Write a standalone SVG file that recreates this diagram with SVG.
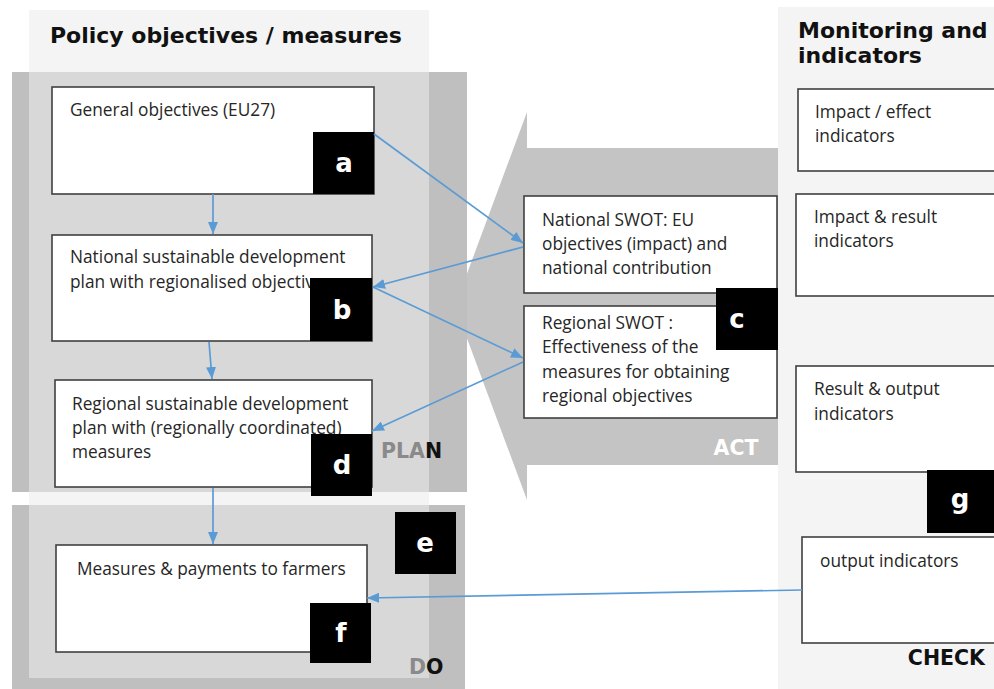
<svg xmlns="http://www.w3.org/2000/svg" width="994" height="689" viewBox="0 0 994 689">
<defs>
<style>
.box{fill:#fff;stroke:#404040;stroke-width:1.6}
.lbl{fill:#000}
.lt{font-family:"DejaVu Sans",Verdana,sans-serif;font-weight:bold;font-size:26px;fill:#fff;text-anchor:middle}
.tx{font-family:"Open Sans","Noto Sans",sans-serif;font-size:17.3px;fill:#262626}
.hd{font-family:"DejaVu Sans",Verdana,sans-serif;font-weight:bold;font-size:22px;fill:#111}
.ph{font-family:"DejaVu Sans",Verdana,sans-serif;font-weight:bold;font-size:20.5px}
.con{stroke:#5b9bd5;stroke-width:1.7;fill:none;marker-end:url(#ah)}
</style>
<marker id="ah" viewBox="0 0 12 10" refX="12" refY="5" markerWidth="12" markerHeight="10" markerUnits="userSpaceOnUse" orient="auto">
<path d="M0,0 L12,5 L0,10 z" fill="#5b9bd5"/>
</marker>
</defs>
<rect x="0" y="0" width="994" height="689" fill="#fff"/>

<!-- backgrounds -->
<g id="act-arrow">
<polygon points="778,148 527,148 527,112 455,306 527,500 527,465 778,465" fill="#c4c4c4"/>
<text class="ph" x="736" y="455" fill="#fff" text-anchor="middle">ACT</text>
</g>
<g id="policy-column">
<rect x="29" y="10" width="400" height="679" fill="#f4f4f4"/>
<text class="hd" x="50" y="43">Policy objectives / measures</text>
</g>
<g id="plan-panel">
<rect x="12" y="72" width="455" height="420" fill="#bfbfbf"/>
<rect x="29" y="72" width="400" height="420" fill="#d8d8d8"/>
<text class="ph" x="381" y="458"><tspan fill="#8a8a8a">PLA</tspan><tspan fill="#111">N</tspan></text>
</g>
<g id="do-panel">
<rect x="12" y="505" width="453" height="184" fill="#bfbfbf"/>
<rect x="29" y="505" width="400" height="173" fill="#d8d8d8"/>
<text class="ph" x="409" y="674"><tspan fill="#8a8a8a">D</tspan><tspan fill="#111">O</tspan></text>
</g>
<g id="monitoring-panel">
<rect x="778" y="7" width="216" height="682" fill="#f4f4f4"/>
<text class="hd" x="798" y="38">Monitoring and</text>
<text class="hd" x="798" y="63">indicators</text>
<text class="ph" x="985" y="665" fill="#111" text-anchor="end">CHECK</text>
</g>

<!-- nodes -->
<g id="node-a">
<rect class="box" x="52" y="87" width="322" height="107"/>
<text class="tx" x="70" y="116">General objectives (EU27)</text>
<rect class="lbl" x="313" y="132" width="61" height="62"/>
<text class="lt" x="344" y="172">a</text>
</g>
<g id="node-b">
<rect class="box" x="52" y="235" width="320" height="106"/>
<text class="tx" x="70" y="263">National sustainable development</text>
<text class="tx" x="70" y="288">plan with regionalised objectives</text>
<rect class="lbl" x="310" y="278" width="62" height="63"/>
<text class="lt" x="342" y="319">b</text>
</g>
<g id="node-d">
<rect class="box" x="55" y="380" width="317" height="107"/>
<text class="tx" x="72" y="410">Regional sustainable development</text>
<text class="tx" x="72" y="434">plan with (regionally coordinated)</text>
<text class="tx" x="72" y="458">measures</text>
<rect class="lbl" x="311" y="434" width="61" height="62"/>
<text class="lt" x="342" y="474">d</text>
</g>
<g id="node-e">
<rect class="lbl" x="395" y="512" width="61" height="62"/>
<text class="lt" x="425" y="552">e</text>
</g>
<g id="node-f">
<rect class="box" x="56" y="545" width="311" height="107"/>
<text class="tx" x="77" y="575">Measures &amp; payments to farmers</text>
<rect class="lbl" x="310" y="603" width="61" height="60"/>
<text class="lt" x="341" y="642">f</text>
</g>
<g id="node-national-swot">
<rect class="box" x="524" y="196" width="253" height="97"/>
<text class="tx" x="542" y="226">National SWOT: EU</text>
<text class="tx" x="542" y="250">objectives (impact) and</text>
<text class="tx" x="542" y="274">national contribution</text>
</g>
<g id="node-regional-swot">
<rect class="box" x="524" y="306" width="253" height="112"/>
<text class="tx" x="542" y="329">Regional SWOT :</text>
<text class="tx" x="542" y="353">Effectiveness of the</text>
<text class="tx" x="542" y="378">measures for obtaining</text>
<text class="tx" x="542" y="402">regional objectives</text>
</g>
<g id="node-c">
<rect class="lbl" x="716" y="288" width="62" height="62"/>
<text class="lt" x="737" y="328">c</text>
</g>
<g id="node-impact-effect">
<rect class="box" x="798" y="89" width="210" height="82"/>
<text class="tx" x="815" y="118">Impact / effect</text>
<text class="tx" x="815" y="142">indicators</text>
</g>
<g id="node-impact-result">
<rect class="box" x="796" y="194" width="212" height="102"/>
<text class="tx" x="814" y="223">Impact &amp; result</text>
<text class="tx" x="814" y="247">indicators</text>
</g>
<g id="node-result-output">
<rect class="box" x="796" y="366" width="212" height="106"/>
<text class="tx" x="814" y="395">Result &amp; output</text>
<text class="tx" x="814" y="420">indicators</text>
</g>
<g id="node-g">
<rect class="lbl" x="927" y="470" width="67" height="63"/>
<text class="lt" x="960" y="508">g</text>
</g>
<g id="node-output">
<rect class="box" x="802" y="537" width="206" height="106"/>
<text class="tx" x="820" y="567">output indicators</text>
</g>

<!-- connectors -->
<g id="connectors">
<line class="con" x1="213" y1="194" x2="213" y2="234"/>
<line class="con" x1="209" y1="342" x2="212" y2="379"/>
<line class="con" x1="213" y1="488" x2="213" y2="544"/>
<line class="con" x1="374" y1="134" x2="523" y2="243"/>
<line class="con" x1="523" y1="247" x2="373" y2="287"/>
<line class="con" x1="373" y1="287" x2="523" y2="358"/>
<line class="con" x1="523" y1="362" x2="372" y2="431"/>
<line class="con" x1="802" y1="590" x2="367" y2="598"/>
</g>
</svg>
